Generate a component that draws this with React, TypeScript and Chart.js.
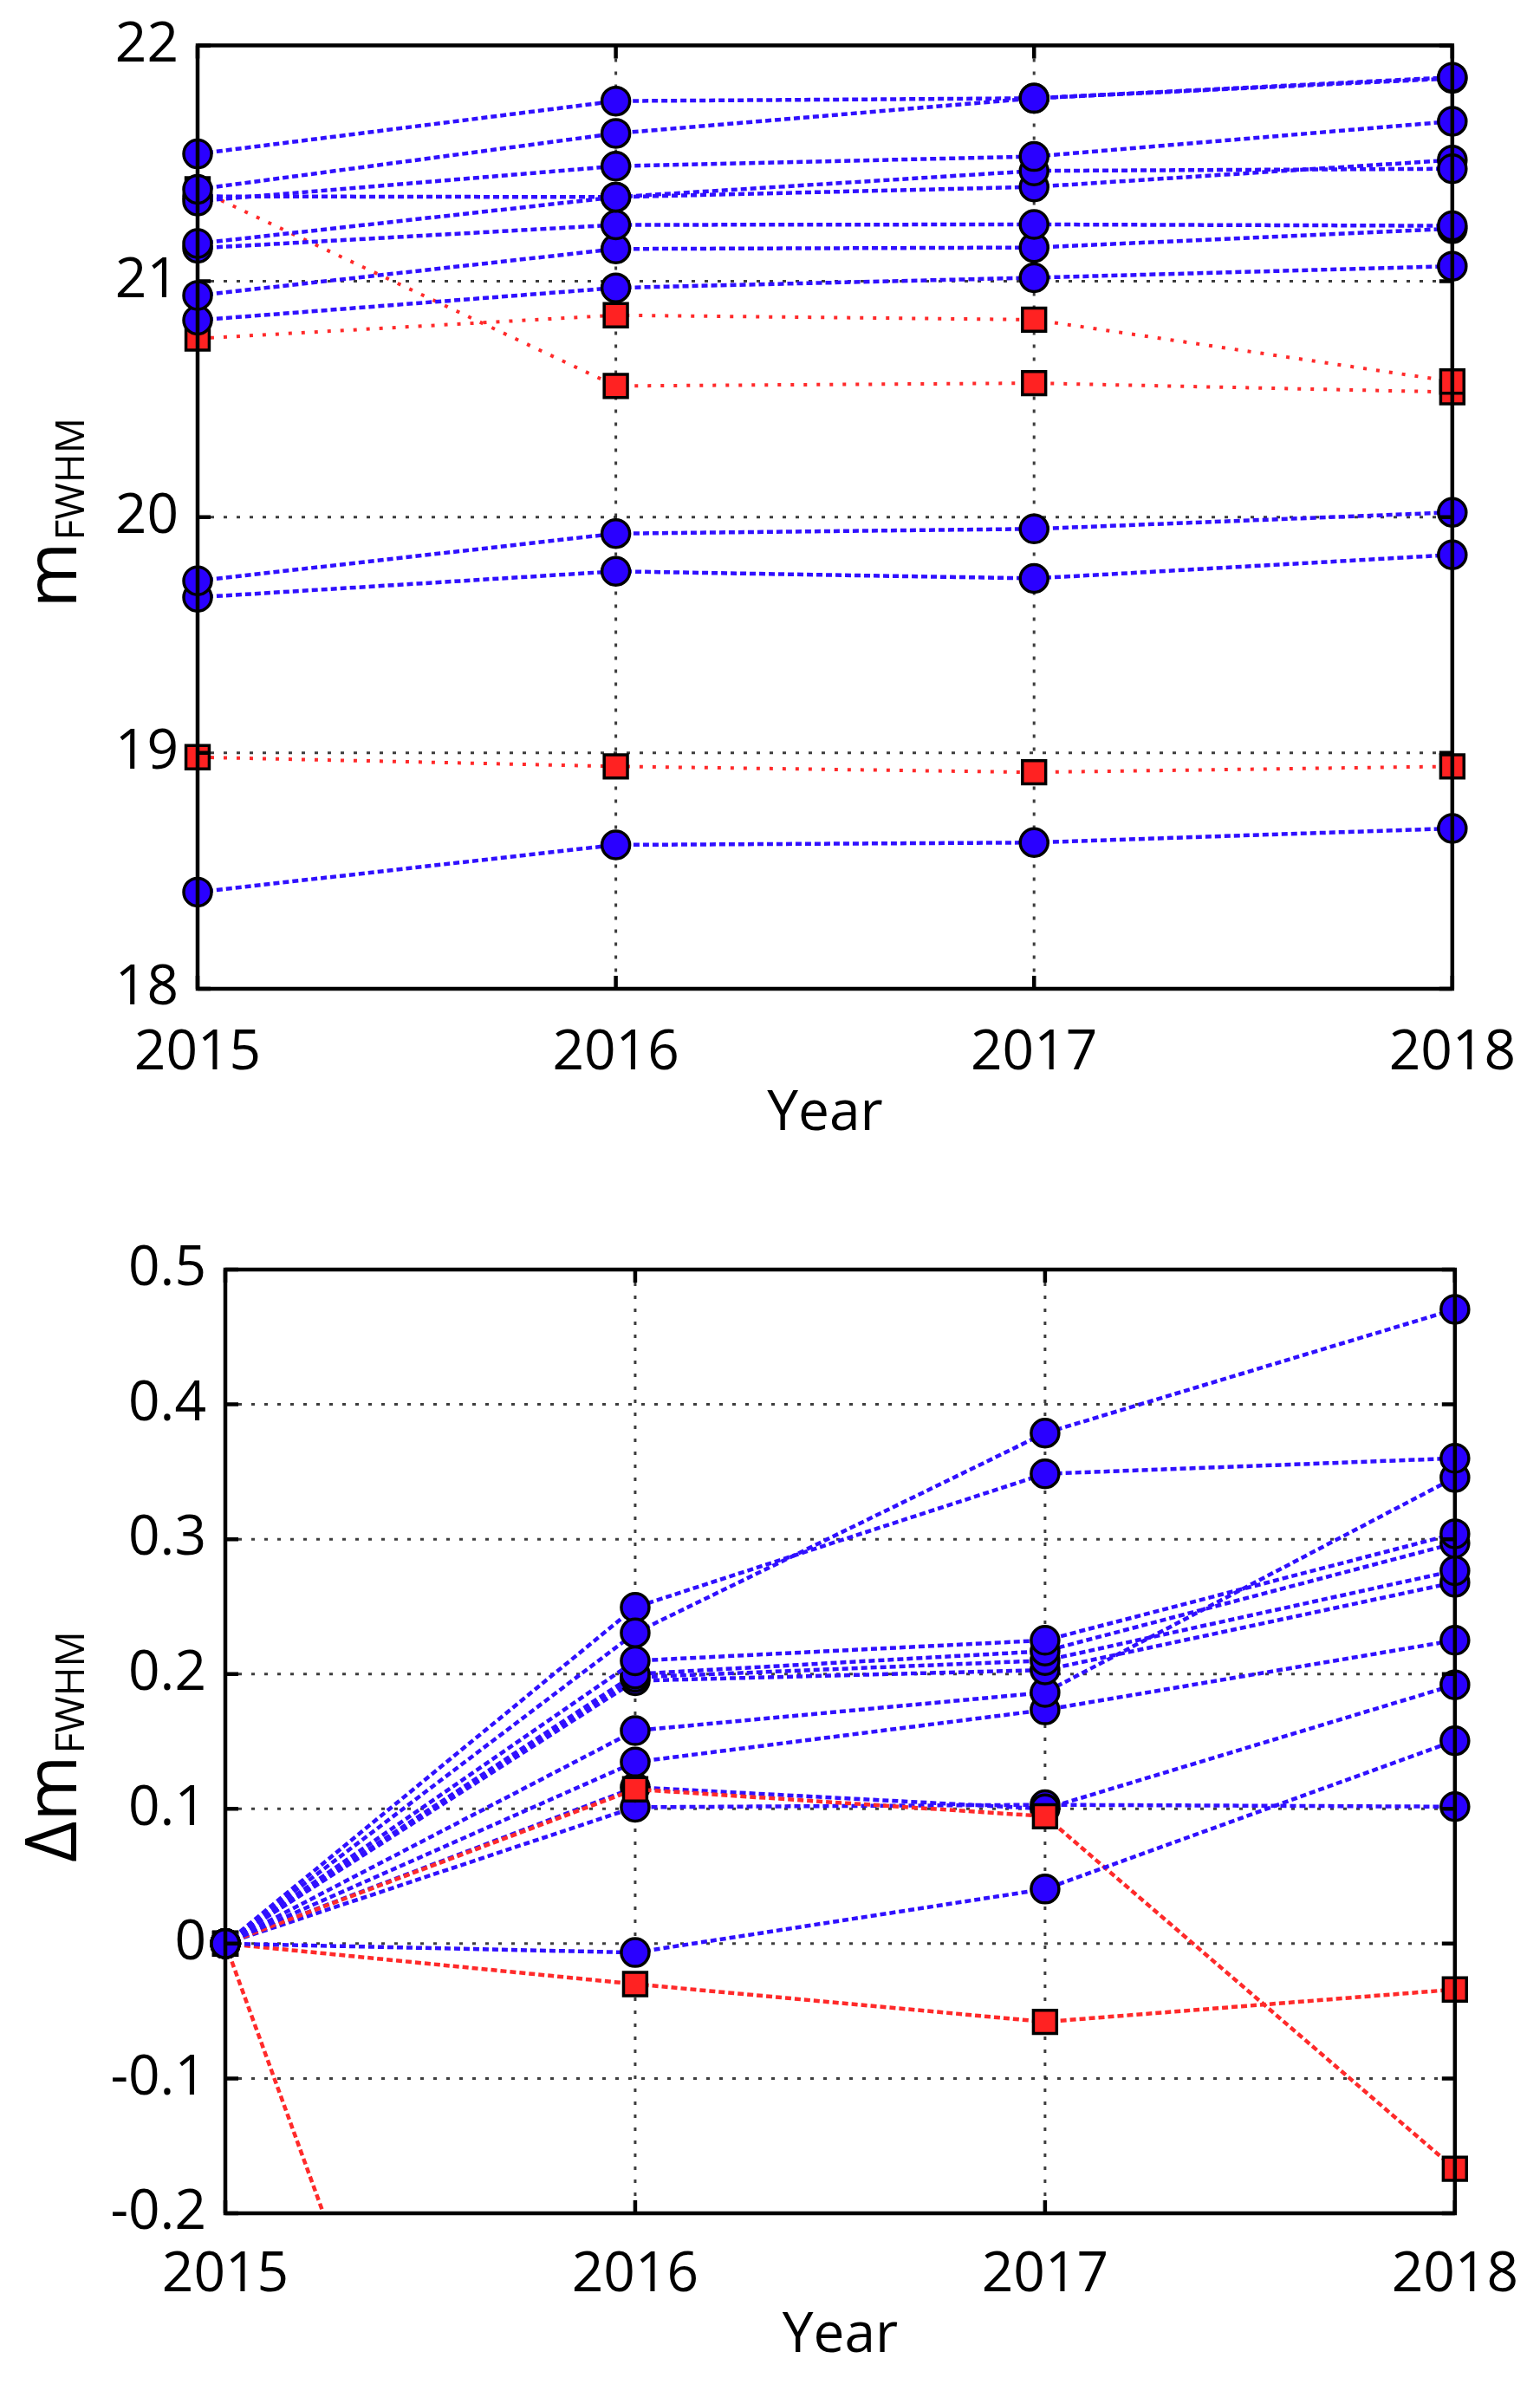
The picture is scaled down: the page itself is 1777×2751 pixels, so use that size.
import React, { useEffect, useRef } from 'react';
import { Chart, registerables } from 'chart.js';

Chart.register(...registerables);

// ---------- data ----------
const years = ['2015', '2016', '2017', '2018'];

// Top panel: m_FWHM per year (blue circles)
const topBlueA = [21.54, 21.764, 21.776, 21.865];
const topBlueB = [21.39, 21.627, 21.776, 21.86];
const topBlueC = [21.34, 21.488, 21.529, 21.678];
const topBlueD = [21.36, 21.357, 21.468, 21.477];
const topBlueE = [21.16, 21.357, 21.4, 21.514];
const topBlueF = [21.14, 21.239, 21.241, 21.235];
const topBlueG = [20.94, 21.137, 21.143, 21.223];
const topBlueH = [20.835, 20.972, 21.015, 21.064];
const topBlueL1 = [19.73, 19.93, 19.95, 20.02];
const topBlueL2 = [19.66, 19.77, 19.74, 19.84];
const topBlueL3 = [18.41, 18.61, 18.62, 18.68];
// Top panel: red squares
const topRed1 = [20.757, 20.856, 20.837, 20.575];
const topRed2 = [21.39, 20.556, 20.568, 20.53];
const topRed3 = [18.982, 18.943, 18.918, 18.943];

// Bottom panel: delta m_FWHM (blue circles)
const botBlue1 = [0, 0.2305, 0.3787, 0.4705];
const botBlue2 = [0, 0.2495, 0.3485, 0.36];
const botBlue3 = [0, 0.2098, 0.225, 0.304];
const botBlue4 = [0, 0.2, 0.217, 0.297];
const botBlue5 = [0, 0.1976, 0.21, 0.2767];
const botBlue6 = [0, 0.195, 0.203, 0.268];
const botBlue7 = [0, 0.158, 0.1863, 0.3457];
const botBlue8 = [0, 0.1347, 0.1734, 0.225];
const botBlue9 = [0, 0.116, 0.1, 0.192];
const botBlue10 = [0, 0.1012, 0.103, 0.1016];
const botBlue11 = [0, -0.0066, 0.0405, 0.1505];
// Bottom panel: red squares
const botRed1 = [0, 0.1145, 0.0945, -0.167];
const botRed2 = [0, -0.836, -0.822, -0.86];
const botRed3 = [0, -0.03, -0.058, -0.034];

// axis ranges / ticks
const topYMin = 18;
const topYMax = 22;
const topYStep = 1;
const botYMin = -0.2;
const botYMax = 0.5;
const botYStep = 0.1;

const xTitle = 'Year';
const topYTitle = { main: 'm', sub: 'FWHM' };
const botYTitle = { main: 'Δm', sub: 'FWHM' };

// ---------- styles ----------
const FONT = "'Open Sans', 'DejaVu Sans', sans-serif";
const BLUE_FILL = '#2a00ff';
const BLUE_LINE = '#3010ff';
const RED_FILL = '#ff2222';
const RED_LINE = '#ff2a2a';
const GRID = 'rgba(40,40,40,0.9)';

function blueDs(data: number[]) {
  return {
    data,
    borderColor: BLUE_LINE,
    borderWidth: 4.5,
    borderDash: [7, 4],
    pointStyle: 'circle',
    pointRadius: 16,
    pointHoverRadius: 16,
    pointBackgroundColor: BLUE_FILL,
    pointBorderColor: '#000',
    pointBorderWidth: 3.5,
    fill: false,
    tension: 0,
  };
}

function redDs(data: number[], dotted: boolean) {
  return {
    data,
    borderColor: RED_LINE,
    borderWidth: dotted ? 4 : 4.5,
    borderDash: dotted ? [4, 11] : [7, 4],
    pointStyle: 'rect',
    pointRadius: 19,
    pointHoverRadius: 19,
    pointBackgroundColor: RED_FILL,
    pointBorderColor: '#000',
    pointBorderWidth: 3.5,
    fill: false,
    tension: 0,
  };
}

function fmtTick(v: number) {
  const r = Math.round(v * 10) / 10;
  return Math.abs(r) < 1e-9 ? '0' : String(r);
}

const framePlugin = {
  id: 'frame',
  beforeDatasetsDraw(chart: any) {
    const { ctx, chartArea: a, scales } = chart;
    const x = scales.x;
    const y = scales.y;
    ctx.save();
    ctx.strokeStyle = GRID;
    ctx.lineWidth = 3;
    ctx.setLineDash([4, 11]);
    x.ticks.forEach((_t: any, i: number) => {
      const px = x.getPixelForTick(i);
      if (px > a.left + 2 && px < a.right - 2) {
        ctx.beginPath();
        ctx.moveTo(px, a.top);
        ctx.lineTo(px, a.bottom);
        ctx.stroke();
      }
    });
    y.ticks.forEach((_t: any, i: number) => {
      const py = y.getPixelForTick(i);
      if (py > a.top + 2 && py < a.bottom - 2) {
        ctx.beginPath();
        ctx.moveTo(a.left, py);
        ctx.lineTo(a.right, py);
        ctx.stroke();
      }
    });
    ctx.restore();
  },
  afterDatasetsDraw(chart: any) {
    const { ctx, chartArea: a, scales } = chart;
    const x = scales.x;
    const y = scales.y;
    ctx.save();
    ctx.setLineDash([]);
    ctx.strokeStyle = '#000';
    ctx.lineWidth = 4.5;
    const tl = 15;
    ctx.beginPath();
    x.ticks.forEach((_t: any, i: number) => {
      const px = x.getPixelForTick(i);
      ctx.moveTo(px, a.bottom);
      ctx.lineTo(px, a.bottom - tl);
      ctx.moveTo(px, a.top);
      ctx.lineTo(px, a.top + tl);
    });
    y.ticks.forEach((_t: any, i: number) => {
      const py = y.getPixelForTick(i);
      ctx.moveTo(a.left, py);
      ctx.lineTo(a.left + tl, py);
      ctx.moveTo(a.right, py);
      ctx.lineTo(a.right - tl, py);
    });
    ctx.stroke();
    ctx.lineJoin = 'miter';
    ctx.strokeRect(a.left, a.top, a.right - a.left, a.bottom - a.top);
    ctx.restore();
  },
  afterDraw(chart: any, _args: any, opts: any) {
    const { ctx, chartArea: a } = chart;
    ctx.save();
    ctx.fillStyle = '#000';
    // x title
    ctx.font = `64px ${FONT}`;
    ctx.textAlign = 'center';
    ctx.textBaseline = 'middle';
    ctx.fillText(opts.xTitle, (a.left + a.right) / 2, a.bottom + opts.xTitleOffset);
    // y title with subscript, rotated
    ctx.translate(opts.yTitleX, (a.top + a.bottom) / 2 + opts.yTitleDy);
    ctx.rotate(-Math.PI / 2);
    ctx.textAlign = 'left';
    ctx.textBaseline = 'alphabetic';
    ctx.font = `82px ${FONT}`;
    const wm = ctx.measureText(opts.main).width;
    ctx.font = `46px ${FONT}`;
    const ws = ctx.measureText(opts.sub).width;
    const x0 = -(wm + ws) / 2;
    ctx.font = `82px ${FONT}`;
    ctx.fillText(opts.main, x0, 0);
    ctx.font = `46px ${FONT}`;
    ctx.fillText(opts.sub, x0 + wm + 2, 9);
    ctx.restore();
  },
};

function buildOptions(p: any) {
  return {
    responsive: false,
    maintainAspectRatio: false,
    animation: false,
    devicePixelRatio: 1,
    events: [],
    layout: { padding: { top: p.padTop, right: p.padRight, bottom: 0, left: 0 } },
    plugins: {
      legend: { display: false },
      tooltip: { enabled: false },
      frame: p.frame,
    },
    scales: {
      x: {
        type: 'category',
        offset: false,
        grid: { display: false },
        border: { display: false },
        ticks: {
          color: '#000',
          font: { family: FONT, size: 64 },
          padding: p.xPad,
          autoSkip: false,
          maxRotation: 0,
        },
        afterFit: (s: any) => {
          s.height = p.xHeight;
        },
      },
      y: {
        type: 'linear',
        min: p.yMin,
        max: p.yMax,
        grid: { display: false },
        border: { display: false },
        ticks: {
          stepSize: p.yStep,
          color: '#000',
          font: { family: FONT, size: 64 },
          padding: 14,
          callback: (v: any) => fmtTick(Number(v)),
        },
        afterFit: (s: any) => {
          s.width = p.yWidth;
        },
      },
    },
  };
}

export default function App() {
  const topRef = useRef<HTMLCanvasElement>(null);
  const botRef = useRef<HTMLCanvasElement>(null);

  useEffect(() => {
    Chart.defaults.font.family = FONT;
    const topChart = new Chart(topRef.current as HTMLCanvasElement, {
      type: 'line',
      data: {
        labels: years,
        datasets: [
          ...[topBlueA, topBlueB, topBlueC, topBlueD, topBlueE, topBlueF, topBlueG, topBlueH, topBlueL1, topBlueL2, topBlueL3].map(blueDs),
          ...[topRed1, topRed2, topRed3].map((d) => redDs(d, true)),
        ] as any,
      },
      options: buildOptions({
        padTop: 52,
        padRight: 92,
        xHeight: 239,
        yWidth: 228,
        xPad: 28,
        yMin: topYMin,
        yMax: topYMax,
        yStep: topYStep,
        frame: { xTitle, xTitleOffset: 145, yTitleX: 88, yTitleDy: -4, main: topYTitle.main, sub: topYTitle.sub },
      }) as any,
      plugins: [framePlugin as any],
    });

    const botChart = new Chart(botRef.current as HTMLCanvasElement, {
      type: 'line',
      data: {
        labels: years,
        datasets: [
          ...[botBlue1, botBlue2, botBlue3, botBlue4, botBlue5, botBlue6, botBlue7, botBlue8, botBlue11].map(blueDs),
          ...[botRed1, botRed2, botRed3].map((d) => redDs(d, false)),
          ...[botBlue9, botBlue10].map(blueDs),
        ] as any,
      },
      options: buildOptions({
        padTop: 85,
        padRight: 91,
        xHeight: 197,
        yWidth: 260,
        xPad: 25,
        yMin: botYMin,
        yMax: botYMax,
        yStep: botYStep,
        frame: { xTitle, xTitleOffset: 142, yTitleX: 88, yTitleDy: 7, main: botYTitle.main, sub: botYTitle.sub },
      }) as any,
      plugins: [framePlugin as any],
    });

    return () => {
      topChart.destroy();
      botChart.destroy();
    };
  }, []);

  return (
    <div style={{ position: 'absolute', left: 0, top: 0, width: 1777, height: 2751, background: '#fff' }}>
      <canvas ref={topRef} width={1777} height={1380} style={{ position: 'absolute', left: 0, top: 0, width: 1777, height: 1380 }} />
      <canvas ref={botRef} width={1777} height={1371} style={{ position: 'absolute', left: 0, top: 1380, width: 1777, height: 1371 }} />
    </div>
  );
}
